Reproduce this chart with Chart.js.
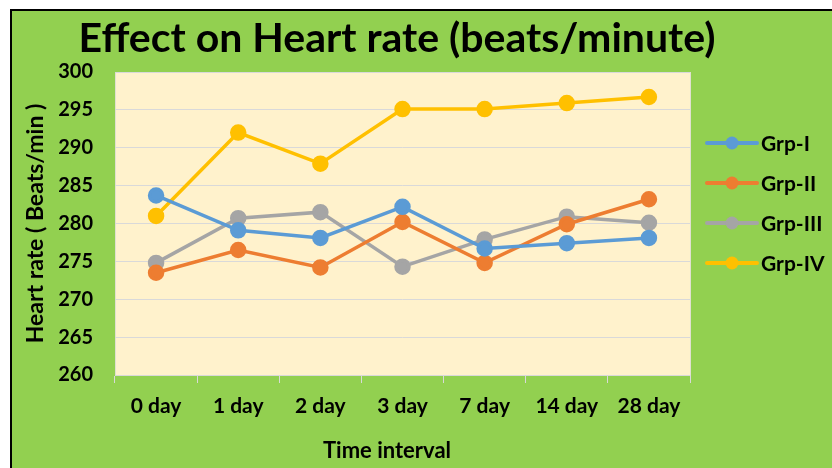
<!DOCTYPE html>
<html>
<head>
<meta charset="utf-8">
<script src="https://cdn.jsdelivr.net/npm/chart.js@4/dist/chart.umd.min.js"></script>
<style>
  html, body { margin: 0; padding: 0; background: #fff; }
  #frame {
    position: absolute; left: 10px; top: 9px;
    width: 820px; height: 457px;
    border-left: 2px solid #000; border-top: 2px solid #000;
    background: #92d050;
  }
  #grafico { display: block; }
</style>
</head>
<body>
<div id="frame"><canvas id="grafico" width="820" height="457"></canvas></div>
<script>
const titulo = "Effect on Heart rate (beats/minute)";
const tituloX = "Time interval";
const categorias = ["0 day", "1 day", "2 day", "3 day", "7 day", "14 day", "28 day"];
const grpI   = [283.7, 279.1, 278.1, 282.2, 276.7, 277.4, 278.1];
const grpII  = [273.5, 276.5, 274.2, 280.2, 274.8, 279.9, 283.2];
const grpIII = [274.8, 280.7, 281.5, 274.3, 277.9, 280.9, 280.1];
const grpIV  = [281.0, 292.0, 287.9, 295.1, 295.1, 295.9, 296.7];
const nombres = ["Grp-I", "Grp-II", "Grp-III", "Grp-IV"];
const colores = ["#5b9bd5", "#ed7d31", "#a5a5a5", "#ffc000"];
const yTicks = [260, 265, 270, 275, 280, 285, 290, 295, 300];

const FONT = "Lato, 'Open Sans', sans-serif";

function serie(i, datos) {
  return {
    label: nombres[i],
    data: datos,
    borderColor: colores[i],
    backgroundColor: colores[i],
    borderWidth: 3.5,
    pointRadius: 6.5,
    pointHoverRadius: 6.5,
    tension: 0
  };
}

// fondo del area de trazado
const fondoPlot = {
  id: "fondoPlot",
  beforeDraw(chart) {
    const a = chart.chartArea, ctx = chart.ctx;
    ctx.save();
    ctx.fillStyle = "#fff2cc";
    ctx.fillRect(a.left, a.top, a.right - a.left, a.bottom - a.top);
    ctx.strokeStyle = "#e0e0d0";
    ctx.lineWidth = 1;
    ctx.strokeRect(a.left + 0.5, a.top + 0.5, a.right - a.left, a.bottom - a.top);
    ctx.restore();
  }
};

// titulos: el principal y el del eje X (algo a la izquierda del centro del plot)
const titulos = {
  id: "titulos",
  afterDraw(chart) {
    const ctx = chart.ctx;
    ctx.save();
    ctx.fillStyle = "#000";
    ctx.textAlign = "center";
    ctx.textBaseline = "alphabetic";
    ctx.font = "bold 41px " + FONT;
    ctx.fillText(titulo, 385, 41);
    ctx.font = "bold 22px " + FONT;
    ctx.textBaseline = "middle";
    ctx.fillText(tituloX, 375, 440);
    ctx.restore();
  }
};

// leyenda con linea + punto
const leyenda = {
  id: "leyenda",
  afterDraw(chart) {
    const ctx = chart.ctx;
    const x0 = 695, y0 = 132, paso = 40;
    ctx.save();
    chart.data.datasets.forEach((ds, i) => {
      const y = y0 + i * paso;
      ctx.strokeStyle = ds.borderColor;
      ctx.lineWidth = 4;
      ctx.lineCap = "round";
      ctx.beginPath();
      ctx.moveTo(x0, y);
      ctx.lineTo(x0 + 50, y);
      ctx.stroke();
      ctx.fillStyle = ds.borderColor;
      ctx.beginPath();
      ctx.arc(x0 + 25, y, 6.5, 0, Math.PI * 2);
      ctx.fill();
      ctx.fillStyle = "#000";
      ctx.font = "bold 21px " + FONT;
      ctx.textBaseline = "middle";
      ctx.fillText(ds.label, x0 + 54, y + 1);
    });
    ctx.restore();
  }
};

const ctx = document.getElementById("grafico").getContext("2d");
new Chart(ctx, {
  type: "line",
  data: {
    labels: categorias,
    datasets: [serie(0, grpI), serie(1, grpII), serie(2, grpIII), serie(3, grpIV)]
  },
  options: {
    responsive: false,
    animation: false,
    layout: { padding: { left: 0, right: 142, top: 61, bottom: 0 } },
    plugins: {
      legend: { display: false },
      tooltip: { enabled: false },
      title: { display: false }
    },
    scales: {
      x: {
        offset: true,
        grid: { offset: true, drawOnChartArea: false, drawTicks: true, tickLength: 8, color: "#d9d9d9" },
        border: { color: "#d9d9d9" },
        ticks: { color: "#000", font: { family: FONT, size: 21, weight: "bold" }, padding: 11, maxRotation: 0 },
        afterFit(s) { s.height = 93; }
      },
      y: {
        min: 260, max: 300,
        afterBuildTicks(s) { s.ticks = yTicks.map(v => ({ value: v })); },
        grid: { color: "#d9d9d9", drawTicks: false },
        border: { display: false },
        ticks: { color: "#000", font: { family: FONT, size: 20, weight: "bold" }, padding: 22 },
        title: {
          display: true, text: "Heart rate ( Beats/min )", color: "#000",
          font: { family: FONT, size: 23, weight: "bold" }, padding: { top: 10, bottom: 0 }
        },
        afterFit(s) { s.width = 103; }
      }
    }
  },
  plugins: [fondoPlot, titulos, leyenda]
});
</script>
</body>
</html>
